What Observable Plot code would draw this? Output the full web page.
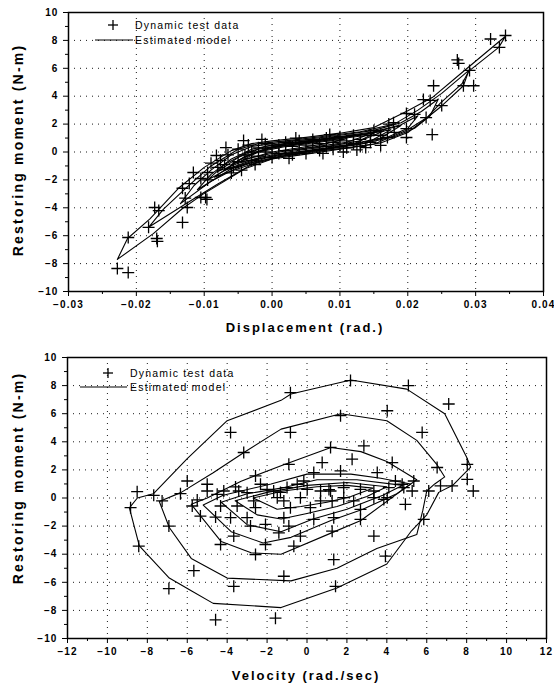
<!DOCTYPE html>
<html><head><meta charset="utf-8">
<script src="https://cdn.jsdelivr.net/npm/d3@7"></script>
<script src="https://cdn.jsdelivr.net/npm/@observablehq/plot@0.6"></script>
<style>
body{margin:0;background:#fff;font-family:"Liberation Sans",Arial,sans-serif;}
#wrap{position:relative;width:554px;height:687px;overflow:hidden;}
#wrap > svg{position:absolute;left:0;}
svg text{letter-spacing:1.1px;}
</style></head><body><div id="wrap"></div>
<script>
// ---------- data: displacement panel ----------
const dispTicks = [-0.03,-0.02,-0.01,0.00,0.01,0.02,0.03,0.04];
const dispMinor = [-0.025,-0.015,-0.005,0.005,0.015,0.025,0.035];
const dispGrid = [-0.02,-0.01,0.00,0.01,0.02,0.03];
const momentTicks = [-10,-8,-6,-4,-2,0,2,4,6,8,10];
const momentMinor = [-9,-7,-5,-3,-1,1,3,5,7,9];
const momentGrid = [-8,-6,-4,-2,0,2,4,6,8];

const dispPoints = [
 [-0.0228,-8.35],[-0.0212,-8.64],[-0.0212,-6.13],[-0.0173,-3.98],[-0.0167,-4.2],[-0.0182,-5.4],[-0.017,-6.2],[-0.0169,-6.4],
 [-0.0132,-5.05],[-0.0132,-2.6],[-0.0128,-3.3],[-0.0122,-2.26],[-0.0116,-1.47],[-0.0125,-3.98],[-0.0105,-3.26],[-0.0098,-3.26],
 [-0.0096,-3.4],[-0.0082,-0.25],[-0.0076,-0.6],[-0.0095,-1.47],[-0.0105,-1.9],[-0.0095,-2.0],[-0.0042,0.82],[-0.0068,0.32],[-0.0057,-1.1],
 [0.0322,8.1],[0.0344,8.35],[0.0335,7.5],[0.0273,6.6],[0.0275,6.35],[0.0291,5.85],[0.0282,4.75],[0.0297,4.75],[0.0238,4.75],
 [0.0223,3.76],[0.0233,3.7],[0.025,3.33],[0.0227,2.47],[0.0198,2.76],[0.021,2.7],[0.0236,1.25],[0.0198,1.04],[0.0198,1.68],
 [0.0179,2.1],[0.0172,2.0],[0.016,0.47],[0.017,1.04],[0.0138,0.32],[0.0145,1.2],[0.015,1.54],
 [-0.007,-0.9],[-0.0065,-0.2],[-0.006,-1.5],[-0.005,0.2],[-0.005,-0.7],[-0.0045,-1.3],[-0.004,-0.2],[-0.0035,0.5],[-0.003,0.0],
 [-0.003,-0.6],[-0.002,0.3],[-0.002,-0.3],[-0.001,0.6],[-0.001,0.0],[0.0,0.3],[0.0,-0.4],[0.001,0.5],[0.001,-0.1],[0.002,0.7],
 [0.002,0.1],[0.003,0.4],[0.003,-0.2],[0.004,0.8],[0.004,0.2],[0.005,0.5],[0.005,-0.1],[0.006,0.9],[0.006,0.3],[0.007,0.6],
 [0.007,0.1],[0.008,1.0],[0.008,0.4],[0.009,0.7],[0.009,0.2],[0.010,1.1],[0.010,0.5],[0.011,0.8],[0.011,0.3],[0.012,1.2],
 [0.012,0.6],[0.013,0.9],[0.013,0.4],[0.0145,0.7],[0.016,1.2],[0.018,1.4],[-0.008,-1.1],[-0.009,-0.8],
 [-0.0015,0.9],[0.0035,1.0],[0.0085,1.25],[-0.0025,-0.9],[0.0025,-0.45],[0.0075,-0.1],[0.0105,0.0],[0.0125,0.15]
];

const dispLoop1 = [[-0.0228,-7.7],[-0.0213,-6.2],[-0.018,-4.8],[-0.0138,-2.6],[-0.01,-1.1],[-0.006,0.1],[-0.003,0.6],[0,0.8],[0.005,1.05],[0.01,1.35],[0.015,1.75],[0.02,2.95],[0.0236,3.9],[0.028,5.7],[0.0344,8.3],[0.0334,7.5],[0.029,5.8],[0.028,4.9],[0.0248,3.5],[0.0229,2.5],[0.02,1.6],[0.015,0.55],[0.01,0.2],[0.005,-0.15],[0,-0.5],[-0.004,-1.2],[-0.0101,-3.0],[-0.0132,-4.05],[-0.0175,-5.85],[-0.0228,-7.7]];
const dispLoop2 = [[-0.0182,-5.4],[-0.016,-4.1],[-0.0125,-2.5],[-0.009,-1.0],[-0.005,0.2],[-0.002,0.6],[0.003,0.85],[0.008,1.15],[0.013,1.45],[0.018,2.0],[0.0215,3.0],[0.025,4.2],[0.029,5.85],[0.0282,4.75],[0.025,3.3],[0.0227,2.4],[0.02,1.4],[0.016,0.65],[0.011,0.3],[0.006,0.0],[0.001,-0.35],[-0.003,-0.9],[-0.008,-2.3],[-0.012,-3.5],[-0.0182,-5.4]];
const dispLoop3 = [[-0.0135,-3.7],[-0.0115,-2.4],[-0.009,-1.3],[-0.006,-0.2],[-0.003,0.4],[0.0,0.6],[0.005,0.9],[0.01,1.2],[0.015,1.55],[0.019,2.1],[0.022,2.9],[0.0245,3.8],[0.0233,2.6],[0.021,1.7],[0.018,1.1],[0.013,0.55],[0.008,0.2],[0.003,-0.1],[-0.001,-0.45],[-0.005,-1.1],[-0.009,-2.1],[-0.0135,-3.7]];
const dispLoop4 = [[-0.011,-2.7],[-0.009,-1.6],[-0.006,-0.5],[-0.003,0.2],[0.0,0.5],[0.005,0.8],[0.01,1.1],[0.015,1.45],[0.019,1.95],[0.0215,2.6],[0.02,1.7],[0.017,1.05],[0.012,0.55],[0.007,0.2],[0.002,-0.1],[-0.002,-0.5],[-0.006,-1.2],[-0.011,-2.7]];
const dispLoop5 = [[-0.0095,-2.0],[-0.007,-0.9],[-0.004,-0.1],[-0.001,0.4],[0.004,0.7],[0.009,1.0],[0.014,1.3],[0.019,1.9],[0.016,1.0],[0.011,0.5],[0.006,0.15],[0.001,-0.2],[-0.003,-0.6],[-0.0065,-1.2],[-0.0095,-2.0]];
const dispLoop6 = [[-0.008,-1.4],[-0.005,-0.4],[-0.002,0.2],[0.002,0.55],[0.007,0.85],[0.012,1.15],[0.0165,1.5],[0.013,0.8],[0.008,0.4],[0.003,0.05],[-0.001,-0.3],[-0.005,-0.8],[-0.008,-1.4]];
const dispLoop7 = [[-0.006,-0.9],[-0.003,-0.1],[0.001,0.4],[0.006,0.7],[0.01,0.95],[0.014,1.2],[0.011,0.7],[0.006,0.35],[0.001,0.0],[-0.003,-0.4],[-0.006,-0.9]];
const dispLoop8 = [[-0.0045,-0.6],[-0.002,0.0],[0.002,0.4],[0.006,0.65],[0.011,0.95],[0.008,0.6],[0.004,0.3],[0.0,0.0],[-0.0045,-0.6]];
const dispLoop9 = [[-0.007,-1.3],[-0.004,-0.3],[0.0,0.35],[0.005,0.7],[0.01,1.05],[0.015,1.35],[0.012,0.55],[0.007,0.15],[0.002,-0.25],[-0.003,-0.75],[-0.007,-1.3]];
const dispLoop10 = [[-0.0085,-1.8],[-0.005,-0.6],[-0.001,0.25],[0.004,0.6],[0.009,0.9],[0.0175,1.6],[0.014,0.65],[0.009,0.3],[0.004,-0.05],[-0.001,-0.55],[-0.005,-1.2],[-0.0085,-1.8]];

// ---------- data: velocity panel ----------
const velTicks = [-12,-10,-8,-6,-4,-2,0,2,4,6,8,10,12];
const velMinor = [-11,-9,-7,-5,-3,-1,1,3,5,7,9,11];
const velGrid = [-10,-8,-6,-4,-2,0,2,4,6,8,10];

const velPoints = [
 [-8.51,0.45],[-8.84,-0.69],[-8.43,-3.43],[-7.68,0.19],[-7.26,-0.21],[-6.92,-2.0],[-6.92,-6.45],[-6.0,1.21],[-6.34,0.31],
 [-5.67,-5.17],[-5.75,-0.57],[-5.0,0.98],[-5.0,0.5],[-5.34,-1.29],[-5.5,-0.14],[-4.58,-1.36],[-4.33,-3.31],[-4.5,0.26],
 [-3.83,4.67],[-3.17,3.24],[-3.67,-6.29],[-3.67,-2.71],[-4.58,-8.67],[-4.17,0.5],[-3.58,0.79],[-3.42,0.5],[-4.33,-0.57],
 [-3.5,-0.57],[-3.83,-1.4],[-3.0,-1.4],[-2.83,-2.0],[-2.08,-1.88],[-2.08,-3.31],[-2.58,-4.02],[-2.58,1.57],[-2.33,0.98],
 [-3.0,0.38],[-2.67,-0.21],[-2.58,-0.69],[-2.0,0.62],[-1.67,0.5],[-1.58,-8.55],
 [-0.83,4.67],[-0.91,2.4],[0.76,2.52],[1.18,3.6],[1.68,5.86],[2.85,3.71],[2.26,2.76],[4.02,6.21],[4.27,2.52],[5.77,4.67],
 [7.1,6.69],[3.52,1.81],[6.52,2.17],[8.03,2.4],[7.27,0.86],[6.69,0.86],[6.1,0.5],[8.03,1.33],[8.33,0.5],[5.35,1.21],
 [5.27,0.5],[4.93,-0.45],[5.85,-1.52],[3.35,-2.71],[3.93,-4.14],[1.34,-4.38],[1.43,-6.29],[-1.16,-5.57],[-0.66,-3.43],
 [-0.33,-2.71],[1.26,-2.36],[2.68,-1.52],[-1.41,-2.48],[0.34,-1.52],[-0.91,-2.0],[-1.16,-1.4],[0.17,-0.69],[-0.83,-0.69],
 [1.34,-1.4],[2.68,-0.81],[3.85,-0.1],[0.34,1.81],[1.68,1.93],[4.43,1.21],[4.77,0.98],[4.85,0.74],[4.1,0.74],[3.35,0.5],
 [2.68,0.62],[1.84,0.74],[1.18,0.5],[1.1,0.6],[0.68,0.5],[0.01,0.62],[-0.49,0.98],[-1.0,0.74],[-1.33,0.4],[-1.49,0.02],
 [-1.16,-0.21],[-0.16,1.21],[2.34,-0.21],[3.35,0.02],[4.02,0.02],[1.84,0.02],[0.68,-0.21],[-0.33,0.02],[1.26,-0.21],
 [2.18,8.36],[5.08,8.0],[-0.83,7.5]
];

const velLoop1 = [[-8.9,-0.7],[-8.5,0.0],[-7.7,0.3],[-6.0,2.8],[-4.0,5.5],[-1.3,6.95],[-0.8,7.4],[2.2,8.4],[5.0,7.75],[6.9,6.0],[8.0,2.9],[8.2,2.2],[7.3,0.9],[6.6,0.4],[6.0,-1.2],[5.2,-2.4],[4.0,-4.7],[1.5,-6.4],[-1.3,-7.8],[-4.7,-7.5],[-5.8,-6.6],[-6.9,-5.7],[-8.4,-3.4],[-8.9,-0.7]];
const velLoop2 = [[-7.4,-0.25],[-6.3,0.4],[-4.7,1.8],[-3.2,3.2],[-1.3,4.9],[1.7,6.0],[4.0,5.5],[5.5,4.1],[6.5,2.4],[6.9,1.5],[6.4,1.0],[6.0,0.5],[5.8,-0.9],[5.5,-2.6],[3.5,-3.6],[1.5,-5.0],[-0.8,-5.9],[-4.0,-5.7],[-5.8,-4.3],[-6.9,-2.1],[-7.4,-0.25]];
const velLoop3 = [[-5.8,-0.45],[-5.0,0.0],[-3.3,1.2],[-1.3,2.3],[1.2,3.6],[2.7,3.3],[4.0,2.6],[5.5,1.3],[4.9,0.7],[2.7,-1.6],[1.2,-2.5],[-1.3,-4.0],[-2.8,-3.9],[-4.3,-3.1],[-5.8,-0.45]];
const velLoop4 = [[-5.2,-0.5],[-4.2,0.2],[-1.8,1.0],[0.0,1.7],[2.2,1.7],[3.7,1.4],[5.2,1.0],[4.5,0.3],[2.8,-0.8],[1.2,-1.6],[-0.8,-2.8],[-2.2,-3.2],[-3.8,-2.4],[-5.2,-0.5]];
const velLoop5 = [[-4.3,-0.3],[-3.0,0.3],[-1.3,0.7],[0.5,1.3],[2.5,1.3],[4.8,0.9],[3.8,0.2],[2.0,-0.8],[0.3,-1.5],[-1.3,-2.4],[-3.0,-1.9],[-4.3,-0.3]];
const velLoop6 = [[-3.6,-0.2],[-2.0,0.4],[0.0,0.9],[2.0,1.1],[4.0,0.8],[3.0,0.1],[1.5,-0.6],[0.0,-1.1],[-1.3,-1.5],[-2.5,-1.2],[-3.6,-0.2]];
const velLoop7 = [[-2.7,0.0],[-1.2,0.5],[0.5,0.8],[2.0,0.9],[3.3,0.7],[2.2,0.1],[1.0,-0.3],[-0.3,-0.6],[-1.5,-0.8],[-2.7,0.0]];

// ---------- text ----------
const legendLabels = ["Dynamic test data", "Estimated model"];
const yTitle = "Restoring moment (N-m)";
const xTitleTop = "Displacement (rad.)";
const xTitleBottom = "Velocity (rad./sec)";

// ---------- build ----------
const toRows = (loops) => loops.flatMap((l, i) => l.map(([x, y]) => ({x, y, loop: i})));
const toPts = (pts) => pts.map(([x, y]) => ({x, y}));

const cross = {draw(ctx, size){const s = Math.sqrt(size/Math.PI); ctx.moveTo(-s,0); ctx.lineTo(s,0); ctx.moveTo(0,-s); ctx.lineTo(0,s);}};

function panel({height, mt, mb, ml, mr, xDomain, xTicks, xMinor, xGrid, fmt, points, loops}) {
  return Plot.plot({
    width: 554, height, marginTop: mt, marginBottom: mb, marginLeft: ml, marginRight: mr,
    x: {domain: xDomain}, y: {domain: [-10, 10]},
    style: {fontFamily: '"Liberation Sans", Arial, sans-serif', fontSize: "10px", color: "#000", background: "white", overflow: "visible"},
    marks: [
      Plot.gridX(xGrid, {stroke: "#000", strokeOpacity: 0.9, strokeDasharray: "1,5", strokeWidth: 1}),
      Plot.gridY(momentGrid, {stroke: "#000", strokeOpacity: 0.9, strokeDasharray: "1,5", strokeWidth: 1}),
      Plot.line(toRows(loops), {x: "x", y: "y", z: "loop", stroke: "#000", strokeWidth: 1.1}),
      Plot.dot(toPts(points), {x: "x", y: "y", symbol: cross, r: 6, stroke: "#000", fill: "none", strokeWidth: 1.3}),
      Plot.axisX(xTicks, {tickSize: 5, tickPadding: 4, tickFormat: fmt, label: null, fontWeight: "bold"}),
      Plot.axisX(xMinor, {tickSize: 3, text: null, label: null}),
      Plot.axisY(momentTicks, {tickSize: 5, tickPadding: 5, label: null, fontWeight: "bold"}),
      Plot.axisY(momentMinor, {tickSize: 3, text: null, label: null}),
      Plot.frame({stroke: "#000", strokeWidth: 1.5})
    ]
  });
}

const wrap = document.getElementById("wrap");
const p1 = panel({height: 340, mt: 12, mb: 49, ml: 68, mr: 11, xDomain: [-0.03, 0.04], xTicks: dispTicks, xMinor: dispMinor, xGrid: dispGrid,
  fmt: d3.format(".2f"), points: dispPoints, loops: [dispLoop1, dispLoop2, dispLoop3, dispLoop4, dispLoop5, dispLoop6, dispLoop7, dispLoop8, dispLoop9, dispLoop10]});
p1.style.top = "0px";
wrap.appendChild(p1);
const p2 = panel({height: 347, mt: 17, mb: 49, ml: 67, mr: 8, xDomain: [-12, 12], xTicks: velTicks, xMinor: velMinor, xGrid: velGrid,
  fmt: d3.format("d"), points: velPoints, loops: [velLoop1, velLoop2, velLoop3, velLoop4, velLoop5, velLoop6, velLoop7]});
p2.style.top = "340px";
wrap.appendChild(p2);

// overlay: titles and in-plot legends
const ns = "http://www.w3.org/2000/svg";
const ov = document.createElementNS(ns, "svg");
ov.setAttribute("width", 554); ov.setAttribute("height", 687);
ov.style.position = "absolute"; ov.style.left = "0"; ov.style.top = "0"; ov.style.pointerEvents = "none";
ov.setAttribute("font-family", '"Liberation Sans", Arial, sans-serif');
wrap.appendChild(ov);
function txt(s, x, y, opts = {}) {
  const t = document.createElementNS(ns, "text");
  t.textContent = s;
  t.setAttribute("x", x); t.setAttribute("y", y);
  t.setAttribute("font-size", opts.size || 13);
  t.setAttribute("text-anchor", opts.anchor || "start");
  t.setAttribute("dominant-baseline", "central");
  if (opts.weight) t.setAttribute("font-weight", opts.weight);
  t.style.letterSpacing = (opts.ls ?? 1) + "px";
  if (opts.rotate) t.setAttribute("transform", `rotate(-90 ${x} ${y})`);
  ov.appendChild(t);
}
function seg(x1, y1, x2, y2, w) {
  const l = document.createElementNS(ns, "line");
  l.setAttribute("x1", x1); l.setAttribute("y1", y1); l.setAttribute("x2", x2); l.setAttribute("y2", y2);
  l.setAttribute("stroke", "#000"); l.setAttribute("stroke-width", w);
  ov.appendChild(l);
}
function legend(px, py, lx1, lx2, tx, y1, y2) {
  seg(px - 5, y1, px + 5, y1, 1.3); seg(px, y1 - 5, px, y1 + 5, 1.3);
  txt(legendLabels[0], tx, y1, {size: 10.5, ls: 1.2});
  seg(lx1, y2, lx2, y2, 1);
  txt(legendLabels[1], tx, y2, {size: 10.5, ls: 1.2});
}
legend(113, 25, 95, 133, 135, 25, 40);
legend(108, 373, 80, 127, 130, 373, 387);
txt(xTitleTop, 305, 327, {anchor: "middle", size: 13, ls: 2, weight: "bold"});
txt(xTitleBottom, 306, 675, {anchor: "middle", size: 13, ls: 2, weight: "bold"});
txt(yTitle, 18, 150, {anchor: "middle", size: 14, ls: 2.2, weight: "bold", rotate: true});
txt(yTitle, 18, 478, {anchor: "middle", size: 14, ls: 2.2, weight: "bold", rotate: true});
</script></body></html>
